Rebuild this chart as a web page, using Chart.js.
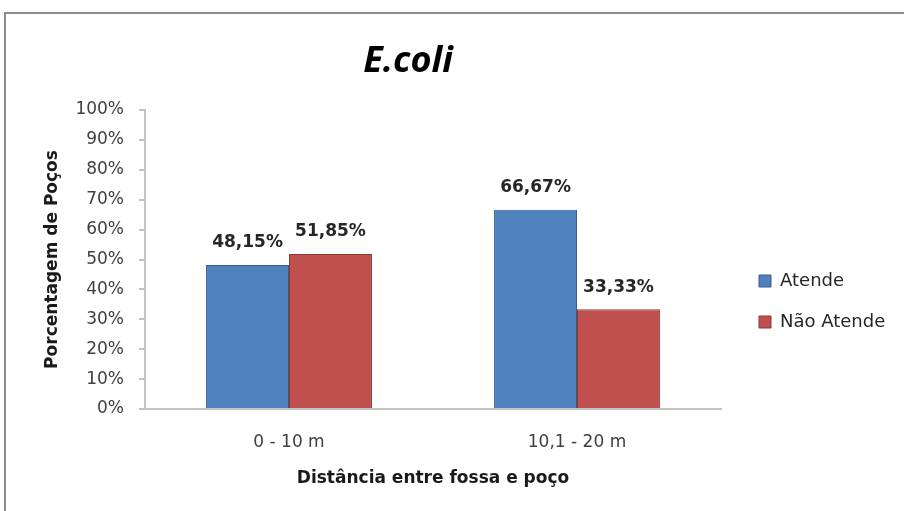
<!DOCTYPE html>
<html>
<head>
<meta charset="utf-8">
<script src="https://cdn.jsdelivr.net/npm/chart.js@4/dist/chart.umd.min.js"></script>
<style>
    body{ margin: 0; background: #ffffff; overflow: hidden; }
    #frame{ position: absolute; left: 4px; top: 12px; width: 1000px; height: 600px;
        border-top: 2px solid #8c8c8c; border-left: 2px solid #8c8c8c; }
    #graphEcoli{ position: absolute; top: 0; }
</style>
</head>
<body>
<div id="frame"></div>
<canvas id="graphEcoli" height="511"></canvas>
<script>
const categories = ['0 - 10 m', '10,1 - 20 m']
const seriesNames = ['Atende', 'Não Atende']
const atende = [48.15, 66.67]
const naoAtende = [51.85, 33.33]
const yTicks = [0, 10, 20, 30, 40, 50, 60, 70, 80, 90, 100]

const fillColors = ['#4f81bd', '#c0504d']
const borderColors = ['#385d8a', '#8c3836']
const axisColor = '#c4c4c4'
const textFont = '"DejaVu Sans"'
const legendFontSize = 18
const legendPadding = 23

function formatPercent(value){
    return value.toFixed(2).replace('.', ',') + '%'
}

// legend keeps its natural width, so measure it to put the plot where it belongs
const canvas = document.getElementById('graphEcoli')
const measure = canvas.getContext('2d')
measure.font = legendFontSize + 'px ' + textFont
let textWidth = Math.max(...seriesNames.map(name => measure.measureText(name).width))
let legendWidth = legendPadding + 12 + legendFontSize / 2 + textWidth + 10
let rightPad = 183 - legendWidth - 15
// canvas is shifted left so the title lands where the original has it
let shift = Math.round(88 - rightPad)
canvas.width = 904 + shift
canvas.style.left = (-shift) + 'px'

// labels on top of each bar
const barLabels = {
    id: 'barLabels',
    afterDatasetsDraw(chart){
        const ctx = chart.ctx
        ctx.save()
        ctx.font = 'bold 17px ' + textFont
        ctx.fillStyle = '#262626'
        ctx.textAlign = 'center'
        ctx.textBaseline = 'middle'
        chart.data.datasets.forEach((dataset, i) => {
            chart.getDatasetMeta(i).data.forEach((bar, j) => {
                ctx.fillText(formatPercent(dataset.data[j]), bar.x, bar.y - 22)
            })
        })
        ctx.restore()
    }
}

const dataset = [atende, naoAtende].map((values, i) => ({
    label: seriesNames[i],
    data: values,
    backgroundColor: fillColors[i],
    borderColor: borderColors[i],
    borderWidth: 1
}))

new Chart(canvas, {
    type: 'bar',
    data: {
        labels: categories,
        datasets: dataset
    },
    options: {
        responsive: false,
        animation: false,
        categoryPercentage: 0.576,
        barPercentage: 1,
        layout: { padding: { left: 0, right: rightPad, top: 0, bottom: 10 } },
        plugins: {
            title: {
                display: true,
                text: 'E.coli',
                color: '#000000',
                font: { family: '"Open Sans"', size: 36, weight: 'bold', style: 'italic' },
                padding: { top: 40, bottom: 26.8 }
            },
            legend: {
                position: 'right',
                title: { display: true, text: '', font: { size: 10 }, padding: { top: 45, bottom: 45 } },
                labels: {
                    boxWidth: 12,
                    boxHeight: 12,
                    padding: legendPadding,
                    color: '#262626',
                    font: { family: textFont, size: legendFontSize }
                }
            },
            tooltip: { enabled: false }
        },
        scales: {
            x: {
                grid: { display: false },
                border: { display: true, color: axisColor, width: 2 },
                ticks: { padding: 15, color: '#404040', font: { family: textFont, size: 17 } },
                title: {
                    display: true,
                    text: 'Distância entre fossa e poço',
                    color: '#1a1a1a',
                    font: { family: textFont, size: 17, weight: 'bold' },
                    padding: { top: 0, bottom: 12 }
                },
                afterFit(scale){ scale.height = 92 }
            },
            y: {
                min: 0,
                max: 100,
                afterBuildTicks(scale){ scale.ticks = yTicks.map(v => ({ value: v })) },
                grid: { drawOnChartArea: false, drawTicks: true, tickLength: 6, color: axisColor, lineWidth: 2 },
                border: { display: true, color: axisColor, width: 2 },
                ticks: {
                    padding: 15,
                    color: '#404040',
                    font: { family: textFont, size: 17 },
                    callback: value => value + '%'
                },
                title: {
                    display: true,
                    text: 'Porcentagem de Poços',
                    color: '#1a1a1a',
                    font: { family: textFont, size: 17, weight: 'bold' },
                    padding: { top: 42 + shift, bottom: 0 }
                },
                afterFit(scale){ scale.width = 145 + shift }
            },
            // empty axis only to keep a gap before the legend
            y2: {
                position: 'right',
                grid: { display: false },
                border: { display: false },
                ticks: { display: false },
                afterFit(scale){ scale.width = 15 }
            }
        }
    },
    plugins: [barLabels]
})
</script>
</body>
</html>
